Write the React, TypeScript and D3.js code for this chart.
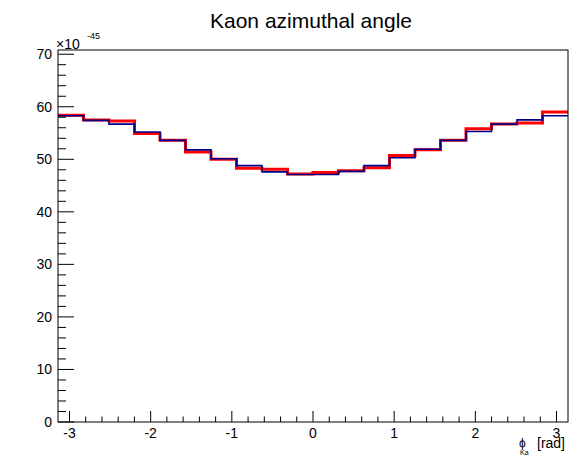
import React from "react";
import * as d3 from "d3";

const binCount = 20;
const redValues = [58.4, 57.5, 57.3, 54.9, 53.6, 51.4, 50.0, 48.3, 48.1, 47.2, 47.5, 47.8, 48.4, 50.7, 51.8, 53.6, 55.8, 56.7, 56.9, 59.0];
const blueValues = [58.3, 57.4, 56.7, 55.2, 53.6, 51.8, 50.1, 48.8, 47.6, 47.1, 47.1, 47.7, 48.8, 50.3, 51.9, 53.6, 55.3, 56.7, 57.5, 58.3];
const xTicks = [-3, -2, -1, 0, 1, 2, 3];
const yTicks = [0, 10, 20, 30, 40, 50, 60, 70];
const title = "Kaon azimuthal angle";

const W = 585, H = 456;
const L = 58, R = 568, T = 50, B = 422;

function stepPath(values: number[], x: d3.ScaleLinear<number, number>, y: d3.ScaleLinear<number, number>) {
  const w = (2 * Math.PI) / binCount;
  let p = "";
  values.forEach((v, i) => {
    const x0 = x(-Math.PI + i * w);
    const x1 = x(-Math.PI + (i + 1) * w);
    p += i === 0 ? `M${x0},${y(v)}` : `L${x0},${y(v)}`;
    p += `L${x1},${y(v)}`;
  });
  return p;
}

export default function App() {
  const x = d3.scaleLinear().domain([-Math.PI, Math.PI]).range([L, R]);
  const y = d3.scaleLinear().domain([0, 70.8]).range([B, T]);
  const xMinor = d3.range(-15, 16).map((k) => k / 5).filter((v) => v >= -Math.PI && v <= Math.PI && Math.abs(v - Math.round(v)) > 1e-6);
  const yMinor = d3.range(0, 71, 2).filter((v) => v % 10 !== 0);
  const font = "'Liberation Sans', Arial, Helvetica, sans-serif";
  return (
    <svg width={W} height={H} style={{ position: "absolute", left: 0, top: 0, background: "#fff" }} fontFamily={font}>
      <rect x={0} y={0} width={W} height={H} fill="#fff" />
      <text x={311} y={28} fontSize={21} textAnchor="middle" fill="#000">{title}</text>
      <path d={stepPath(redValues, x, y)} fill="none" stroke="#ff0000" strokeWidth={3} />
      <path d={stepPath(blueValues, x, y)} fill="none" stroke="#00008c" strokeWidth={1.6} />
      <rect x={L} y={T} width={R - L} height={B - T} fill="none" stroke="#000" strokeWidth={1} />
      {xTicks.map((t) => (
        <g key={"xt" + t}>
          <line x1={x(t)} x2={x(t)} y1={B} y2={B - 11} stroke="#000" />
          <text x={x(t)} y={438} fontSize={14} textAnchor="middle">{t}</text>
        </g>
      ))}
      {xMinor.map((t) => (
        <line key={"xm" + t} x1={x(t)} x2={x(t)} y1={B} y2={B - 5.5} stroke="#000" />
      ))}
      {yTicks.map((t) => (
        <g key={"yt" + t}>
          <line x1={L} x2={L + 16} y1={y(t)} y2={y(t)} stroke="#000" />
          <text x={52} y={y(t) + 5} fontSize={14} textAnchor="end">{t}</text>
        </g>
      ))}
      {yMinor.map((t) => (
        <line key={"ym" + t} x1={L} x2={L + 8} y1={y(t)} y2={y(t)} stroke="#000" />
      ))}
      <text x={56} y={48.5} fontSize={14}>×10</text>
      <text x={87} y={39} fontSize={9}>-45</text>
      <text x={519} y={447} fontSize={12}>ϕ</text>
      <text x={520} y={455} fontSize={7}>Ka</text>
      <text x={537} y={448} fontSize={14}>[rad]</text>
    </svg>
  );
}
